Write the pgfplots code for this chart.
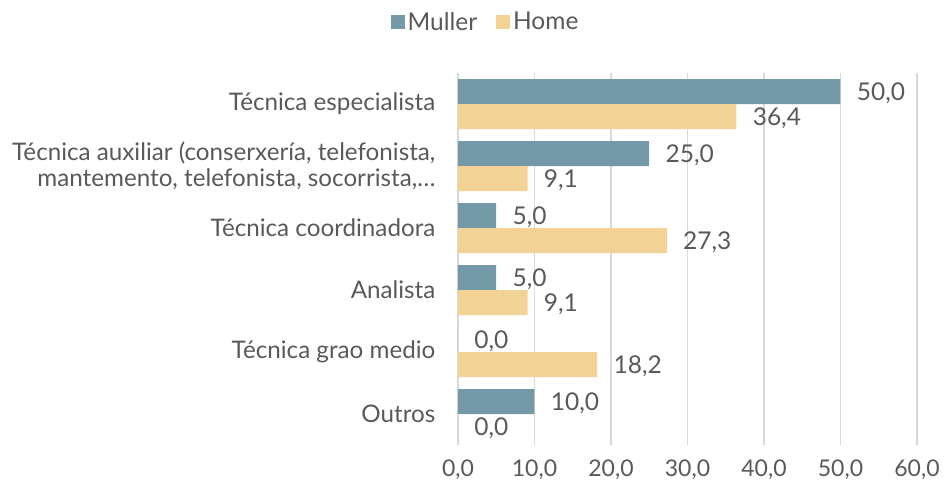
\documentclass[border=0pt]{standalone}
\usepackage{pgfplots}
\pgfplotsset{compat=1.18}
\usepackage{fontspec}
\setmainfont{Lato}
\definecolor{muller}{HTML}{7399A9}
\definecolor{home}{HTML}{F2D295}
\definecolor{inkGray}{HTML}{595959}
\definecolor{gridLine}{HTML}{D9D9D9}
\definecolor{axisLine}{HTML}{C8C8C8}
\begin{document}
\fontsize{24.5pt}{26pt}\selectfont
\begin{tikzpicture}
\useasboundingbox (-458pt,-46pt) rectangle (487pt,445pt);
\begin{axis}[
  scale only axis, width=459pt, height=372pt,
  xbar=0pt, bar width=25pt,
  xmin=0, xmax=60, ymin=-0.5, ymax=5.5, y dir=reverse,
  xtick={0,10,...,60},
  ytick={0,1,2,3,4,5},
  yticklabels={T\'ecnica especialista,
    {T\'ecnica auxiliar (conserxer\'ia, telefonista,\\mantemento, telefonista, socorrista,…},
    T\'ecnica coordinadora, Analista, T\'ecnica grao medio, Outros},
  yticklabel style={align=right, font=\fontsize{24.2pt}{26pt}\selectfont, text=inkGray, xshift=-10pt},
  xticklabel style={font=\fontsize{23pt}{25pt}\selectfont, text=inkGray, yshift=-6pt},
  /pgf/number format/.cd, use comma, fixed, fixed zerofill, precision=1, assume math mode=true, /pgfplots/.cd,
  xmajorgrids, major grid style={gridLine, line width=1.2pt},
  axis line style={draw=none}, tick style={draw=none},
  axis x line*=bottom, axis y line*=left,
  extra x ticks={0}, extra x tick labels={}, extra x tick style={grid style={axisLine, line width=1.5pt}},
  nodes near coords,
  every node near coord/.append style={font=\fontsize{24.5pt}{26pt}\selectfont, text=inkGray, anchor=west, xshift=8pt, yshift=-2pt,
    /pgf/number format/.cd, use comma, fixed, fixed zerofill, precision=1, assume math mode=true},
  legend columns=2,
  legend style={draw=none, fill=none, at={(0.061,1)}, anchor=center, yshift=50pt,
    font=\fontsize{24.5pt}{26pt}\selectfont, text=inkGray,
    /tikz/every even column/.append style={column sep=16pt},
    /tikz/every node/.append style={inner xsep=3pt}},
  legend image code/.code={\fill[#1] (0pt,-6pt) rectangle (14pt,8pt);},
  clip=false,
]
\addplot[fill=muller, draw=none, bar shift=12.5pt] coordinates {(50,0) (25,1) (5,2) (5,3) (0,4) (10,5)};
\addplot[fill=home, draw=none, bar shift=-12.5pt] coordinates {(36.4,0) (9.1,1) (27.3,2) (9.1,3) (18.2,4) (0,5)};
\legend{Muller, Home}
\end{axis}
\end{tikzpicture}
\end{document}
